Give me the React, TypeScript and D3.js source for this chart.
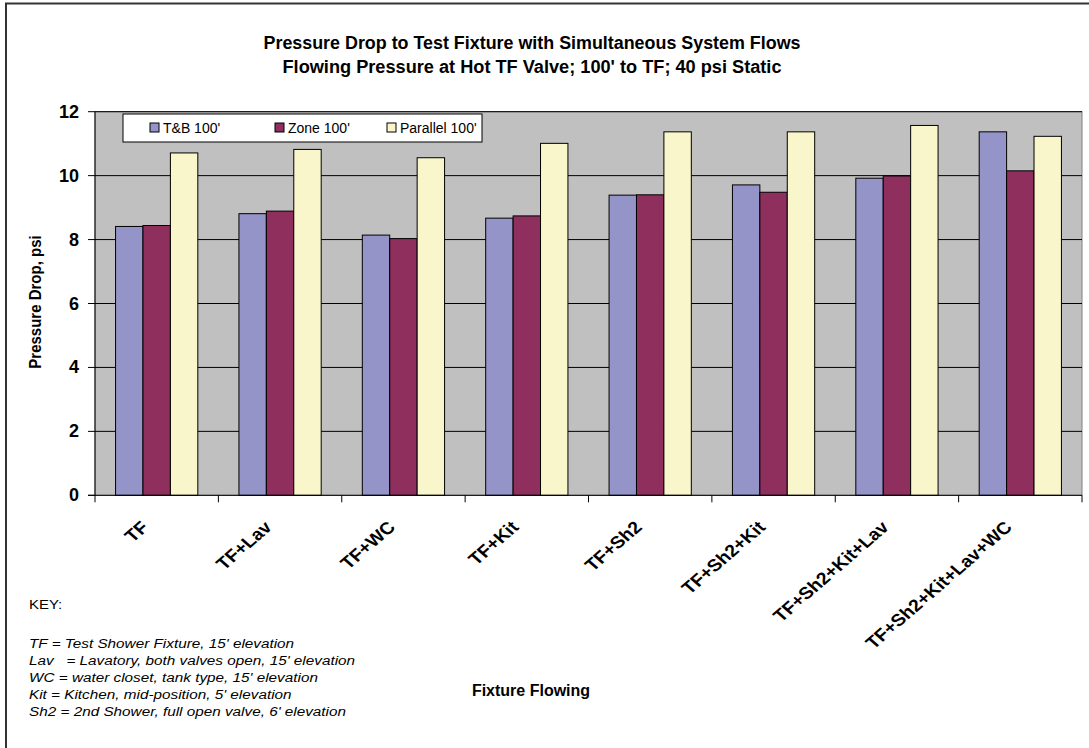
import React from "react";
import * as d3 from "d3";

const categories = ["TF", "TF+Lav", "TF+WC", "TF+Kit", "TF+Sh2", "TF+Sh2+Kit", "TF+Sh2+Kit+Lav", "TF+Sh2+Kit+Lav+WC"];
const seriesNames = ["T&B 100'", "Zone 100'", "Parallel 100'"];
const tbValues = [8.41, 8.81, 8.14, 8.67, 9.39, 9.71, 9.92, 11.37];
const zoneValues = [8.44, 8.89, 8.03, 8.74, 9.4, 9.48, 9.99, 10.15];
const parallelValues = [10.71, 10.82, 10.56, 11.01, 11.37, 11.37, 11.57, 11.23];
const yTicks = [0, 2, 4, 6, 8, 10, 12];
const titleLines = [
  "Pressure Drop to Test Fixture with Simultaneous System Flows",
  "Flowing Pressure at Hot TF Valve; 100' to TF; 40 psi Static",
];
const keyLines = [
  "TF = Test Shower Fixture, 15' elevation",
  "Lav   = Lavatory, both valves open, 15' elevation",
  "WC = water closet, tank type, 15' elevation",
  "Kit = Kitchen, mid-position, 5' elevation",
  "Sh2 = 2nd Shower, full open valve, 6' elevation",
];
const colors = ["#9494C8", "#8E2F5E", "#F8F6CA"];

export default function App() {
  const W = 1089, H = 748;
  const left = 95, right = 1082, top = 111.7, bottom = 495.3;
  const stretch = 1.15;
  const allSeries = [tbValues, zoneValues, parallelValues];
  const x = d3.scaleBand<string>().domain(categories).range([left, right]).padding(0);
  const inner = d3.scaleBand<string>().domain(seriesNames).range([0, x.bandwidth()]).paddingInner(0).paddingOuter(0.75);
  const y = d3.scaleLinear().domain([0, 12]).range([bottom, top]);
  const font = "Arial, 'Liberation Sans', sans-serif";
  const bandEdges = categories.map((c) => x(c)!).concat([right]);
  const legendSwatchX = [150, 275, 387];

  return (
    <svg width={W} height={H} style={{ position: "absolute", left: 0, top: 0, background: "#fff" }} fontFamily={font}>
      <rect x={0} y={0} width={W} height={H} fill="#fff" />
      <rect x={6} y={3.5} width={W + 20} height={H + 20} fill="#fff" stroke="#333" strokeWidth={2} />
      {titleLines.map((t, i) => (
        <text key={i} x={532} y={49 + i * 24} textAnchor="middle" fontSize={18} fontWeight="bold" fill="#000"
          textLength={i === 0 ? 537 : 499} lengthAdjust="spacingAndGlyphs">{t}</text>
      ))}
      {/* plot area */}
      <rect x={left} y={top} width={right - left} height={bottom - top} fill="#C0C0C0" stroke="#808080" strokeWidth={1} />
      {yTicks.filter((t) => t > 0).map((t) => (
        <line key={t} x1={left} x2={right} y1={y(t)} y2={y(t)} stroke="#000" strokeWidth={1} />
      ))}
      {/* bars */}
      {allSeries.map((vals, si) =>
        vals.map((v, ci) => {
          const bx = x(categories[ci])! + inner(seriesNames[si])!;
          return (
            <rect key={`${si}-${ci}`} x={bx} y={y(v)} width={inner.bandwidth()} height={y(0) - y(v)}
              fill={colors[si]} stroke="#000" strokeWidth={1} />
          );
        })
      )}
      {/* axes */}
      <line x1={left} x2={left} y1={top} y2={bottom} stroke="#000" strokeWidth={1} />
      <line x1={left - 7} x2={right} y1={bottom} y2={bottom} stroke="#000" strokeWidth={1} />
      {yTicks.map((t) => (
        <g key={t}>
          <line x1={left - 7} x2={left} y1={y(t)} y2={y(t)} stroke="#000" />
          <text x={left - 16} y={y(t) + 6} textAnchor="end" fontSize={18} fontWeight="bold">{t}</text>
        </g>
      ))}
      {bandEdges.map((e, i) => (
        <line key={i} x1={e} x2={e} y1={bottom} y2={bottom + 7} stroke="#000" />
      ))}
      {categories.map((c) => {
        const cx = x(c)! + x.bandwidth() / 2 - 7;
        const cy = bottom + 33;
        return (
          <text key={c} x={0} y={0} textAnchor="end" fontSize={17} fontWeight="bold"
            transform={`translate(${cx} ${cy}) scale(${stretch} 1) rotate(-45)`}>{c}</text>
        );
      })}
      {/* legend */}
      <rect x={123} y={114} width={359} height={28} fill="#fff" stroke="#000" strokeWidth={1} />
      {seriesNames.map((s, i) => (
        <g key={s}>
          <rect x={legendSwatchX[i]} y={123} width={9} height={9} fill={colors[i]} stroke="#000" strokeWidth={1} />
          <text x={legendSwatchX[i] + 13} y={133} fontSize={14}>{s}</text>
        </g>
      ))}
      {/* axis titles */}
      <text x={0} y={0} transform={`translate(41 302) scale(${stretch} 1) rotate(-90)`} textAnchor="middle" fontSize={15} fontWeight="bold">Pressure Drop, psi</text>
      <text x={531} y={696} textAnchor="middle" fontSize={16} fontWeight="bold">Fixture Flowing</text>
      {/* key */}
      <text x={0} y={0} transform={`translate(29 609) scale(${stretch} 1)`} fontSize={13}>KEY:</text>
      {keyLines.map((k, i) => (
        <text key={i} x={0} y={0} transform={`translate(29 ${648 + i * 17}) scale(${stretch} 1)`} fontSize={13.3}
          fontStyle="italic" style={{ whiteSpace: "pre" }}>{k}</text>
      ))}
    </svg>
  );
}
